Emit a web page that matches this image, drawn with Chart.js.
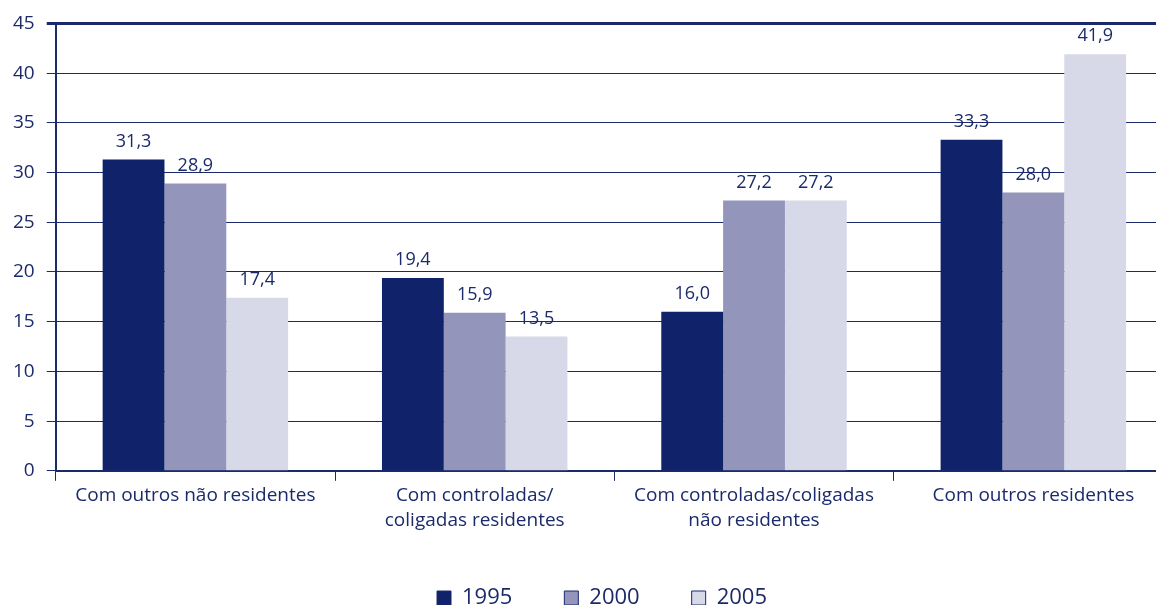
<!DOCTYPE html>
<html><head><meta charset="utf-8">
<script src="https://cdn.jsdelivr.net/npm/chart.js@4.4.1/dist/chart.umd.min.js"></script>
<style>
html,body{margin:0;padding:0;overflow:hidden;background:#fff;width:1156px;height:605px}
#wrap{position:absolute;left:0;top:0}
</style></head><body>
<div id="wrap"><canvas id="c" width="1203" height="619"></canvas></div>
<script>
const categories = [
  ['Com outros não residentes'],
  ['Com controladas/', 'coligadas residentes'],
  ['Com controladas/coligadas', 'não residentes'],
  ['Com outros residentes']
];
const seriesNames = ['1995', '2000', '2005'];
const values1995 = [31.3, 19.4, 16.0, 33.3];
const values2000 = [28.9, 15.9, 27.2, 28.0];
const values2005 = [17.4, 13.5, 27.2, 41.9];
const yTickValues = [0, 5, 10, 15, 20, 25, 30, 35, 40, 45];

const NAVY = '#1b2a6b';
const colors = ['#10226a', '#9395bb', '#d8d9e8'];
const FONT = '"Open Sans", "DejaVu Sans", sans-serif';

const valueLabels = {
  id: 'valueLabels',
  afterDatasetsDraw(chart) {
    const ctx = chart.ctx;
    ctx.save();
    ctx.font = '18px ' + FONT;
    ctx.fillStyle = NAVY;
    ctx.textAlign = 'center';
    ctx.textBaseline = 'middle';
    chart.data.datasets.forEach((ds, i) => {
      chart.getDatasetMeta(i).data.forEach((bar, j) => {
        ctx.fillText(ds.data[j].toFixed(1).replace('.', ','), bar.x, bar.y - 18);
      });
    });
    ctx.restore();
  }
};

new Chart(document.getElementById('c'), {
  type: 'bar',
  data: {
    labels: categories,
    datasets: [
      { label: seriesNames[0], data: values1995, backgroundColor: colors[0] },
      { label: seriesNames[1], data: values2000, backgroundColor: colors[1] },
      { label: seriesNames[2], data: values2005, backgroundColor: colors[2] }
    ]
  },
  options: {
    responsive: false,
    animation: false,
    layout: { padding: { left: 1, right: 0, top: 12, bottom: 0 } },
    datasets: { bar: { categoryPercentage: 0.664, barPercentage: 1.0, borderWidth: 0 } },
    scales: {
      x: {
        grid: { offset: true, drawOnChartArea: false, tickLength: 10, color: NAVY, lineWidth: 1 },
        border: { display: true, color: NAVY, width: 2 },
        ticks: { color: NAVY, font: { family: FONT, size: 19, lineHeight: 1.32 }, padding: 2, maxRotation: 0, autoSkip: false }
      },
      y: {
        min: 0, max: 45,
        afterBuildTicks(axis) { axis.ticks = yTickValues.map(v => ({ value: v })); },
        grid: { color: NAVY, lineWidth: (c) => (c.tick && c.tick.value === 45 ? 3 : 1), tickLength: 9 },
        border: { display: true, color: NAVY, width: 2 },
        ticks: { color: NAVY, font: { family: FONT, size: 19 }, padding: 12 }
      },
      spacer: {
        type: 'linear', position: 'right', display: true,
        grid: { display: false }, border: { display: false }, ticks: { display: false },
        afterFit(scale) { scale.width = 30; }
      }
    },
    plugins: {
      tooltip: { enabled: false },
      legend: {
        position: 'bottom',
        labels: {
          color: NAVY,
          font: { family: FONT, size: 22 },
          boxWidth: 14, boxHeight: 14,
          padding: 52,
          generateLabels(chart) {
            return chart.data.datasets.map((ds, i) => ({
              text: ds.label, fillStyle: ds.backgroundColor, strokeStyle: NAVY,
              lineWidth: 1, hidden: false, datasetIndex: i, fontColor: NAVY
            }));
          }
        }
      }
    }
  },
  plugins: [valueLabels]
});
</script>
</body></html>
